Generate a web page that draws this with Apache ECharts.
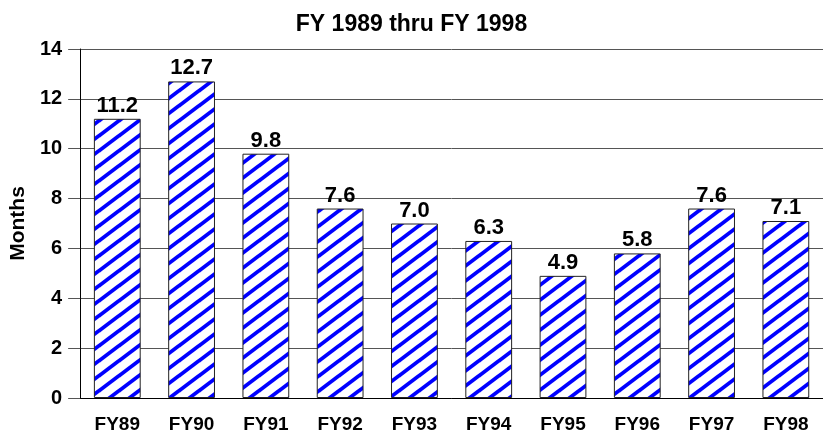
<!DOCTYPE html>
<html>
<head>
<meta charset="utf-8">
<script src="https://cdn.jsdelivr.net/npm/echarts@6/dist/echarts.min.js"></script>
<style>
  html, body { margin: 0; padding: 0; background: #fff; }
  #chart { width: 823px; height: 435px; }
</style>
</head>
<body>
<div id="chart"></div>
<script>
const categories = ['FY89', 'FY90', 'FY91', 'FY92', 'FY93', 'FY94', 'FY95', 'FY96', 'FY97', 'FY98'];
const months = [11.2, 12.7, 9.8, 7.6, 7.0, 6.3, 4.9, 5.8, 7.6, 7.1];

// seamless blue diagonal stripe tile (rising left to right)
function stripeTile() {
  const W = 20, H = 15;
  const c = document.createElement('canvas');
  c.width = W; c.height = H;
  const g = c.getContext('2d');
  g.fillStyle = '#fff';
  g.fillRect(0, 0, W, H);
  g.strokeStyle = '#0000ff';
  g.lineWidth = 3.8;
  for (let n = -1; n <= 1; n++) {
    g.beginPath();
    g.moveTo(-W, 2 * H + n * H);
    g.lineTo(2 * W, -H + n * H);
    g.stroke();
  }
  return c;
}

const font = 'Liberation Sans, Arial, sans-serif';
const chart = echarts.init(document.getElementById('chart'));
chart.setOption({
  animation: false,
  title: {
    text: 'FY 1989 thru FY 1998', left: 'center', top: 8,
    textStyle: { fontFamily: font, fontSize: 23, fontWeight: 'bold', color: '#000' }
  },
  grid: { left: 80, right: 0, top: 49, bottom: 37 },
  xAxis: {
    type: 'category', data: categories,
    axisLine: { lineStyle: { color: '#000', width: 1 } },
    axisTick: { alignWithLabel: true, length: 10, lineStyle: { color: '#000' } },
    axisLabel: { fontFamily: font, fontSize: 19, fontWeight: 'bold', color: '#000', margin: 17 }
  },
  yAxis: {
    type: 'value', min: 0, max: 14, interval: 2,
    name: 'Months', nameLocation: 'middle', nameGap: 40, nameRotate: 90,
    nameTextStyle: { fontFamily: font, fontSize: 21, fontWeight: 'bold', color: '#000' },
    axisLine: { show: true, lineStyle: { color: '#000' } },
    axisTick: { show: true, length: 12, lineStyle: { color: '#555' } },
    axisLabel: { fontFamily: font, fontSize: 20, fontWeight: 'bold', color: '#000', margin: 18 },
    splitLine: { lineStyle: { color: '#555', width: 1 } }
  },
  series: [{
    type: 'bar', data: months, barWidth: '63%',
    itemStyle: {
      color: { image: stripeTile(), repeat: 'repeat' },
      borderColor: '#222', borderWidth: 1
    },
    label: {
      show: true, position: 'top', distance: 2,
      formatter: p => p.value.toFixed(1),
      fontFamily: font, fontSize: 22, fontWeight: 'bold', color: '#000'
    }
  }]
});
</script>
</body>
</html>
